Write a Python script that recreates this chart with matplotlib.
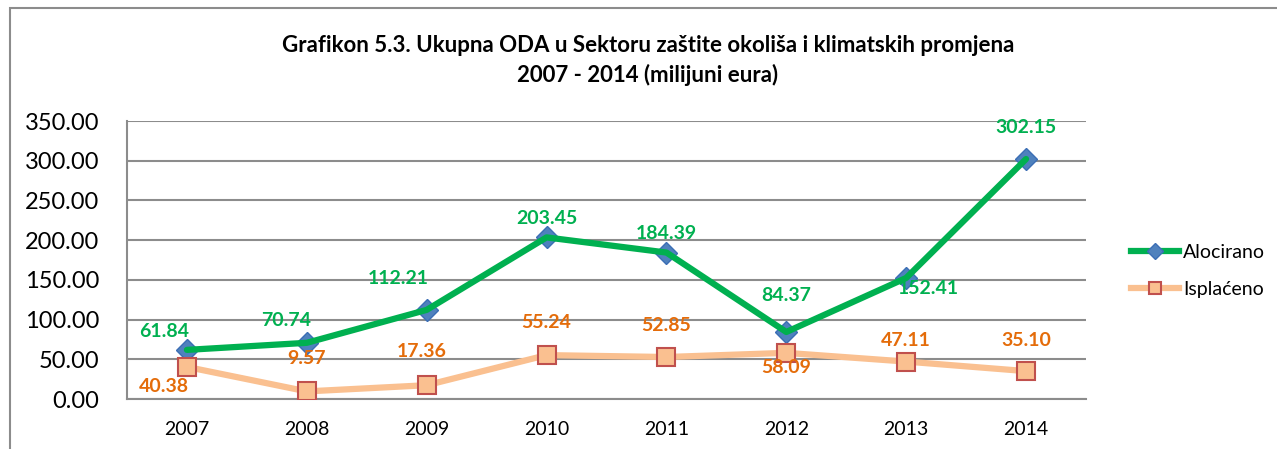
import numpy as np
import matplotlib.pyplot as plt
from matplotlib.lines import Line2D
from matplotlib.patches import Rectangle

years = ['2007', '2008', '2009', '2010', '2011', '2012', '2013', '2014']
alocirano = [61.84, 70.74, 112.21, 203.45, 184.39, 84.37, 152.41, 302.15]
isplaceno = [40.38, 9.57, 17.36, 55.24, 52.85, 58.09, 47.11, 35.10]

# label offsets in pixels (dx, dy)
off_a = [(-23, 18), (-21, 22), (-28, 31), (0, 19), (0, 19), (0, 36), (22, -11), (0, 32)]
off_i = [(-23, -20), (0, 33), (-5, 34), (0, 33), (0, 32), (0, -15), (0, 21), (0, 31)]

green = '#00B050'
orange_txt = '#E46C0A'
peach = '#FAC090'

plt.rcParams['font.family'] = ['Lato', 'DejaVu Sans']

fig = plt.figure(figsize=(12.77, 4.49), dpi=100)
ax = fig.add_axes([127 / 1277, 1 - 399 / 449, (1086 - 127) / 1277, (399 - 121) / 449])

# outer chart frame
fig.patches.append(Rectangle((10 / 1277, -0.1), 1.2, 1.1 - 8 / 449, transform=fig.transFigure,
                             fill=False, edgecolor='#8c8c8c', linewidth=1.5))

x = np.arange(len(years))

ax.plot(x, alocirano, linestyle='none', marker='D', markersize=11,
        markerfacecolor='#4F81BD', markeredgecolor='#3B6EB5', zorder=3)
ax.plot(x, alocirano, color=green, linewidth=4.5, zorder=4, solid_capstyle='round')
ax.plot(x, isplaceno, color=peach, linewidth=4.5, zorder=2, solid_capstyle='round')
ax.plot(x, isplaceno, linestyle='none', marker='s', markersize=13,
        markerfacecolor=peach, markeredgecolor='#C0504D', markeredgewidth=1.5, zorder=5)

for i in range(len(years)):
    ax.annotate(f'{alocirano[i]:.2f}', (x[i], alocirano[i]), xytext=off_a[i],
                textcoords='offset pixels', ha='center', va='center',
                color=green, fontsize=14, fontweight='bold', zorder=6)
    ax.annotate(f'{isplaceno[i]:.2f}', (x[i], isplaceno[i]), xytext=off_i[i],
                textcoords='offset pixels', ha='center', va='center',
                color=orange_txt, fontsize=14, fontweight='bold', zorder=6)

ax.set_xlim(-0.5, 7.5)
ax.set_ylim(0, 350)
ax.set_yticks(np.arange(0, 351, 50))
ax.set_yticklabels([f'{v:.2f}' for v in np.arange(0, 351, 50)], fontsize=17)
ax.set_xticks(x)
ax.set_xticklabels(years, fontsize=14)
ax.tick_params(axis='both', length=0)
ax.tick_params(axis='y', pad=20)
ax.tick_params(axis='x', pad=16)
ax.grid(axis='y', color='#8c8c8c', linewidth=1.5)
ax.set_axisbelow(True)
for s in ['top', 'right']:
    ax.spines[s].set_visible(False)
for s in ['left', 'bottom']:
    ax.spines[s].set_color('#8c8c8c')
    ax.spines[s].set_linewidth(1.5)

fig.text(648 / 1277, 1 - 45 / 449, 'Grafikon 5.3. Ukupna ODA u Sektoru zaštite okoliša i klimatskih promjena',
         ha='center', va='center', fontsize=16, fontweight='bold')
fig.text(648 / 1277, 1 - 75 / 449, '2007 - 2014 (milijuni eura)',
         ha='center', va='center', fontsize=16, fontweight='bold')

handles = [
    Line2D([], [], color=green, linewidth=4.5, marker='D', markersize=8,
           markerfacecolor='#4F81BD', markeredgecolor='#3B6EB5'),
    Line2D([], [], color=peach, linewidth=4.5, marker='s', markersize=9,
           markerfacecolor=peach, markeredgecolor='#C0504D', markeredgewidth=1.5),
]
fig.legend(handles, ['Alocirano', 'Isplaćeno'], loc='center left',
           bbox_to_anchor=(1113 / 1277, 1 - 271 / 449), frameon=False, fontsize=14,
           handlelength=2.5, handletextpad=0.2, labelspacing=1.0)

fig.savefig('out.png', dpi=100)
